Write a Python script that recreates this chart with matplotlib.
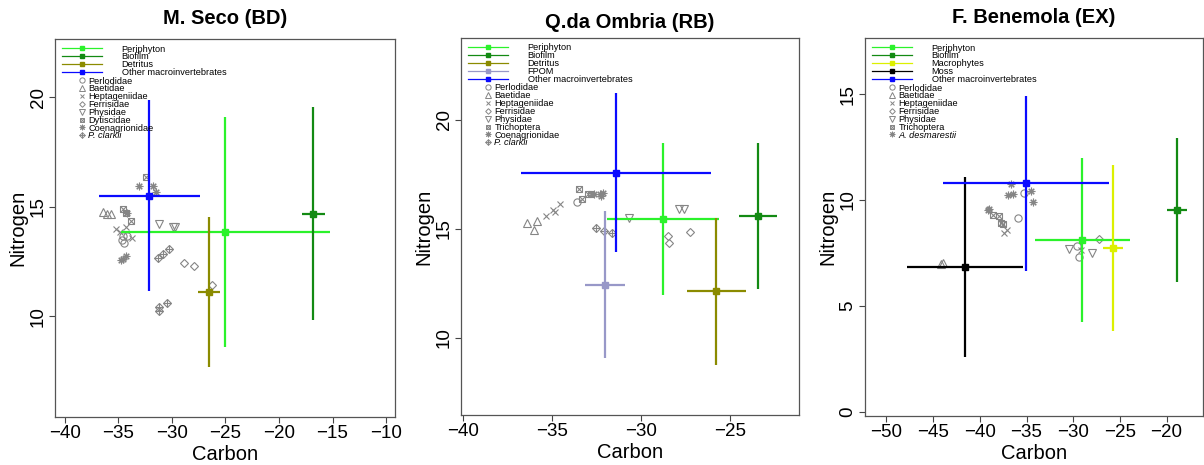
import matplotlib
matplotlib.use('Agg')
import matplotlib.pyplot as plt
from matplotlib.lines import Line2D

plt.rcParams['font.family'] = ['Liberation Sans', 'DejaVu Sans']

# ---------------- data ----------------
titles = ['M. Seco (BD)', 'Q.da Ombria (RB)', 'F. Benemola (EX)']

# Panel 1: M. Seco
seco_src = ['Periphyton', 'Biofilm', 'Detritus', 'Other macroinvertebrates']
seco_src_c = [-25.0, -16.8, -26.55, -32.1]
seco_src_c_sd = [9.77, 1.07, 1.03, 4.72]
seco_src_n = [13.84, 14.68, 11.10, 15.50]
seco_src_n_sd = [5.25, 4.86, 3.43, 4.36]
seco_taxa = ['Perlodidae', 'Baetidae', 'Heptageniidae', 'Ferrisidae', 'Physidae',
             'Dytiscidae', 'Coenagrionidae', 'P. clarkii']
seco_cons_c = [
    [-34.70, -34.46, -34.61, -34.21],
    [-36.42, -36.10, -35.73],
    [-35.26, -34.33, -33.77, -34.86],
    [-28.85, -27.92, -26.29],
    [-31.19, -29.93, -29.72],
    [-32.43, -34.55, -33.86, -34.30],
    [-33.08, -31.75, -31.50, -34.61, -34.30, -34.77, -34.23],
    [-31.34, -30.81, -30.25, -31.21, -31.21, -30.50],
]
seco_cons_n = [
    [13.47, 13.32, 13.67, 13.65],
    [14.76, 14.66, 14.66],
    [14.00, 14.08, 13.58, 13.85],
    [12.43, 12.31, 11.42],
    [14.20, 14.08, 14.08],
    [16.36, 14.87, 14.34, 14.70],
    [15.94, 15.94, 15.68, 12.63, 12.74, 12.56, 14.69],
    [12.66, 12.84, 13.06, 10.42, 10.24, 10.58],
]

# Panel 2: Q.da Ombria
ombria_src = ['Periphyton', 'Biofilm', 'Detritus', 'FPOM', 'Other macroinvertebrates']
ombria_src_c = [-28.79, -23.41, -25.79, -32.05, -31.44]
ombria_src_c_sd = [3.16, 1.06, 1.66, 1.12, 5.34]
ombria_src_n = [15.46, 15.59, 12.14, 12.45, 17.59]
ombria_src_n_sd = [3.49, 3.36, 3.38, 3.37, 3.65]
ombria_taxa = ['Perlodidae', 'Baetidae', 'Heptageniidae', 'Ferrisidae', 'Physidae',
               'Trichoptera', 'Coenagrionidae', 'P. clarkii']
ombria_cons_c = [
    [-33.61],
    [-36.45, -35.85, -36.04],
    [-35.38, -34.96, -34.86, -34.58],
    [-28.49, -28.46, -27.28],
    [-30.69, -27.88, -27.61],
    [-33.51, -33.33, -32.99, -32.85],
    [-32.65, -32.33, -32.15, -32.24],
    [-32.56, -32.11, -31.64],
]
ombria_cons_n = [
    [16.24],
    [15.29, 15.38, 14.95],
    [15.60, 15.87, 15.79, 16.13],
    [14.68, 14.34, 14.85],
    [15.52, 15.93, 15.90],
    [16.82, 16.38, 16.61, 16.61],
    [16.61, 16.61, 16.64, 16.53],
    [15.03, 14.92, 14.83],
]

# Panel 3: F. Benemola
benemola_src = ['Periphyton', 'Biofilm', 'Macrophytes', 'Moss', 'Other macroinvertebrates']
benemola_src_c = [-29.03, -18.87, -25.71, -41.6, -35.04]
benemola_src_c_sd = [5.08, 1.09, 1.09, 6.18, 8.9]
benemola_src_n = [8.12, 9.53, 7.73, 6.83, 10.78]
benemola_src_n_sd = [3.87, 3.39, 3.92, 4.25, 4.12]
benemola_taxa = ['Perlodidae', 'Baetidae', 'Heptageniidae', 'Ferrisidae', 'Physidae',
                 'Trichoptera', 'A. desmarestii']
benemola_cons_c = [
    [-35.89, -35.28, -29.64, -29.36],
    [-44.11, -43.95],
    [-37.43, -37.14, -29.2],
    [-27.21],
    [-30.43, -27.96],
    [-38.57, -37.93, -37.75, -37.50],
    [-39.04, -39.18, -36.97, -36.43, -36.68, -34.57, -34.29],
]
benemola_cons_n = [
    [9.13, 10.31, 7.82, 7.32],
    [6.96, 7.02],
    [8.42, 8.58, 7.63],
    [8.15],
    [7.70, 7.51],
    [9.29, 9.25, 8.90, 8.85],
    [9.57, 9.52, 10.23, 10.28, 10.74, 10.42, 9.89],
]

x_ticks = [[-40, -35, -30, -25, -20, -15, -10], [-40, -35, -30, -25],
           [-50, -45, -40, -35, -30, -25, -20]]
y_ticks = [[10, 15, 20], [10, 15, 20], [0, 5, 10, 15]]
x_lims = [(-40.93, -9.16), (-40.14, -21.12), (-52.3, -16.1)]
y_lims = [(5.40, 22.65), (6.47, 23.76), (-0.2, 17.65)]

# ---------------- styles ----------------
src_colors = {
    'Periphyton': '#2bf22b',
    'Biofilm': '#138a13',
    'Detritus': '#8b8b00',
    'FPOM': '#9898c8',
    'Macrophytes': '#dcf000',
    'Moss': '#000000',
    'Other macroinvertebrates': '#0a0aff',
}
pch = {
    'Perlodidae': 1, 'Baetidae': 2, 'Heptageniidae': 4, 'Ferrisidae': 5,
    'Physidae': 6, 'Dytiscidae': 7, 'Trichoptera': 7,
    'Coenagrionidae': 8, 'A. desmarestii': 8, 'P. clarkii': 9,
}
GREY = '#858585'


def layers(p, s):
    if p == 1:
        return [('o', s)]
    if p == 2:
        return [('^', s)]
    if p == 4:
        return [('x', s * 0.9)]
    if p == 5:
        return [('D', s * 0.75)]
    if p == 6:
        return [('v', s)]
    if p == 7:
        return [('s', s * 0.85), ('x', s * 0.85)]
    if p == 8:
        return [((8, 2, 0), s * 1.05)]
    if p == 9:
        return [('D', s * 0.75), ('+', s * 1.06)]
    return [('o', s)]


W, H = 1204, 465
boxes = [(55, 395, 39, 417), (461, 799, 38, 415), (865, 1203, 38, 416)]
panels = [
    (seco_src, seco_src_c, seco_src_c_sd, seco_src_n, seco_src_n_sd,
     seco_taxa, seco_cons_c, seco_cons_n),
    (ombria_src, ombria_src_c, ombria_src_c_sd, ombria_src_n, ombria_src_n_sd,
     ombria_taxa, ombria_cons_c, ombria_cons_n),
    (benemola_src, benemola_src_c, benemola_src_c_sd, benemola_src_n, benemola_src_n_sd,
     benemola_taxa, benemola_cons_c, benemola_cons_n),
]
title_pads = [10.5, 7.5, 10.5]

fig = plt.figure(figsize=(W / 100, H / 100), dpi=100)

LFS = 6.6
em = LFS * 100 / 72.0
LSP = -0.125
PITCH = 8.0

for i, (box, pdata) in enumerate(zip(boxes, panels)):
    l, r, t, b = box
    ax = fig.add_axes([l / W, 1 - b / H, (r - l) / W, (b - t) / H])
    axW, axH = r - l, b - t
    src, sc, scsd, sn, snsd, taxa, cc, cn = pdata

    # consumers
    for name, xs, ys in zip(taxa, cc, cn):
        for mk, ms in layers(pch[name], 5.2):
            ax.plot(xs, ys, linestyle='none', marker=mk, ms=ms, mfc='none',
                    mec=GREY, mew=0.8, zorder=2)

    # sources (mean +/- sd)
    for name, x, xe, y, ye in zip(src, sc, scsd, sn, snsd):
        col = src_colors[name]
        ax.errorbar([x], [y], xerr=[xe], yerr=[ye], fmt='s', color=col, ms=4.2,
                    elinewidth=1.6, capsize=0, zorder=3)

    ax.set_xlim(*x_lims[i])
    ax.set_ylim(*y_lims[i])
    ax.set_xticks(x_ticks[i])
    ax.set_yticks(y_ticks[i])
    ax.tick_params(direction='out', length=4, width=0.8, labelsize=13.5, pad=2,
                   color='#444444')
    for lab in ax.get_yticklabels():
        lab.set_rotation(90)
        lab.set_va('center')
    for sp in ax.spines.values():
        sp.set_color('#555555')
        sp.set_linewidth(0.9)
    ax.set_xlabel('Carbon', fontsize=14.5, labelpad=2)
    ax.set_ylabel('Nitrogen', fontsize=14.5, labelpad=1.5)
    ax.set_title(titles[i], fontsize=14.5, fontweight='bold', pad=title_pads[i])

    # legends
    hA = [Line2D([], [], color=src_colors[n], lw=0.9, marker='s', ms=2.8) for n in src]
    topA = 5.5
    legA = ax.legend(hA, src, loc='upper left',
                     bbox_to_anchor=(6.5 / axW, 1 - topA / axH),
                     frameon=False, prop={'size': LFS}, handlelength=40 / em,
                     handletextpad=20 / em, labelspacing=LSP, borderpad=0,
                     borderaxespad=0, handleheight=0.7)
    ax.add_artist(legA)

    hB = []
    for n in taxa:
        parts = tuple(Line2D([], [], linestyle='none', marker=mk, ms=ms, mfc='none',
                             mec=GREY, mew=0.7) for mk, ms in layers(pch[n], 3.8))
        hB.append(parts if len(parts) > 1 else parts[0])
    topB = topA + len(src) * PITCH
    legB = ax.legend(hB, taxa, loc='upper left',
                     bbox_to_anchor=(23.4 / axW, 1 - topB / axH),
                     frameon=False, prop={'size': LFS}, handlelength=6.7 / em,
                     handletextpad=3.2 / em, labelspacing=LSP, borderpad=0,
                     borderaxespad=0, handleheight=0.7)
    for txt in legB.get_texts():
        if txt.get_text() in ('P. clarkii', 'A. desmarestii'):
            txt.set_fontstyle('italic')

fig.savefig('out.png', dpi=100)
